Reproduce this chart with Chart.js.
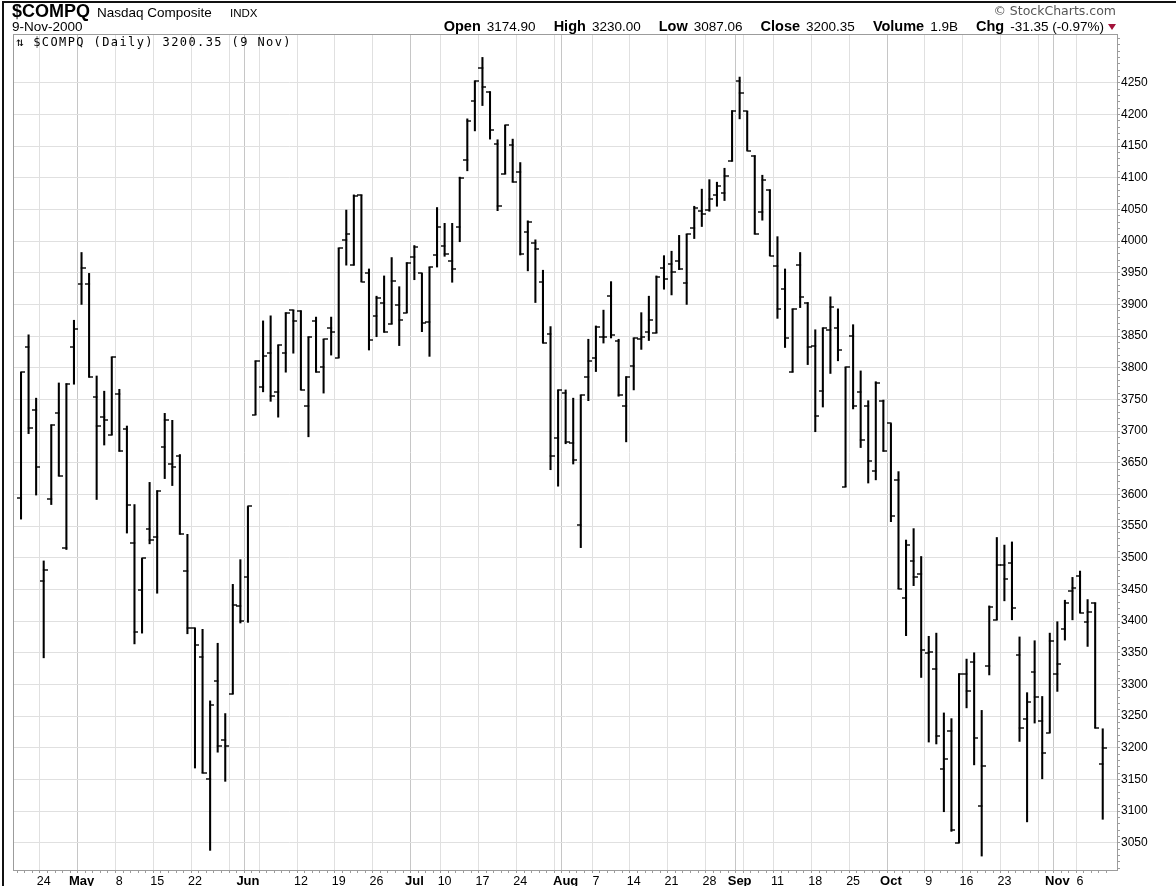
<!DOCTYPE html>
<html>
<head>
<meta charset="utf-8">
<script src="https://cdn.jsdelivr.net/npm/chart.js@4.4.1/dist/chart.umd.min.js"></script>
<style>
html,body{margin:0;padding:0;background:#fff;}
#wrap{position:relative;width:1176px;height:886px;overflow:hidden;font-family:"Liberation Sans",Arial,sans-serif;color:#000;}
#c{position:absolute;left:0;top:0;}
#frame{position:absolute;left:2px;top:1px;width:1200px;height:900px;border-left:2px solid #111;border-top:2px solid #111;box-sizing:border-box;}
.t{position:absolute;white-space:nowrap;line-height:1;}
.hdr b{font-size:14.5px;}
.hdr span{font-size:13.5px;margin-right:18px;padding-left:2px;}
.tri{display:inline-block;width:0;height:0;border-left:4.5px solid transparent;border-right:4.5px solid transparent;border-top:6px solid #a3123a;margin-left:4px;vertical-align:1px;}
</style>
</head>
<body>
<div id="wrap">
<canvas id="c" width="1176" height="886"></canvas>
<div id="frame"></div>
<div class="t" style="left:12px;top:2px;font-size:18px;font-weight:bold;">$COMPQ</div>
<div class="t" style="left:97px;top:6px;font-size:13.5px;">Nasdaq Composite</div>
<div class="t" style="left:230px;top:8px;font-size:11.5px;">INDX</div>
<div class="t" style="left:12px;top:20px;font-size:13.5px;">9-Nov-2000</div>
<div class="t" style="right:60px;top:5px;font-size:12.5px;color:#555;font-family:'DejaVu Sans',sans-serif;">© StockCharts.com</div>
<div class="t hdr" style="right:60px;top:19px;font-size:14.5px;"><b>Open</b> <span>3174.90</span><b>High</b> <span>3230.00</span><b>Low</b> <span>3087.06</span><b>Close</b> <span>3200.35</span><b>Volume</b> <span>1.9B</span><b>Chg</b> <span style="margin-right:0">-31.35 (-0.97%)</span><i class="tri"></i></div>
<div class="t" style="left:16px;top:36px;font-family:'DejaVu Sans Mono',monospace;font-size:12px;letter-spacing:1.4px;">⇅ $COMPQ (Daily) 3200.35 (9 Nov)</div>
</div>
<script>
// ---- Trading days (categories) ----
const dates = [
 '04-18','04-19','04-20','04-24','04-25','04-26','04-27','04-28',
 '05-01','05-02','05-03','05-04','05-05','05-08','05-09','05-10','05-11','05-12','05-15','05-16','05-17','05-18','05-19','05-22','05-23','05-24','05-25','05-26','05-30','05-31',
 '06-01','06-02','06-05','06-06','06-07','06-08','06-09','06-12','06-13','06-14','06-15','06-16','06-19','06-20','06-21','06-22','06-23','06-26','06-27','06-28','06-29','06-30',
 '07-03','07-05','07-06','07-07','07-10','07-11','07-12','07-13','07-14','07-17','07-18','07-19','07-20','07-21','07-24','07-25','07-26','07-27','07-28','07-31',
 '08-01','08-02','08-03','08-04','08-07','08-08','08-09','08-10','08-11','08-14','08-15','08-16','08-17','08-18','08-21','08-22','08-23','08-24','08-25','08-28','08-29','08-30','08-31',
 '09-01','09-05','09-06','09-07','09-08','09-11','09-12','09-13','09-14','09-15','09-18','09-19','09-20','09-21','09-22','09-25','09-26','09-27','09-28','09-29',
 '10-02','10-03','10-04','10-05','10-06','10-09','10-10','10-11','10-12','10-13','10-16','10-17','10-18','10-19','10-20','10-23','10-24','10-25','10-26','10-27','10-30','10-31',
 '11-01','11-02','11-03','11-06','11-07','11-08','11-09'
];
// ---- OHLC series ----
const open = [
 3594,3832,3734,3464,3593,3728,3516,3832,
 3932,3932,3754,3722,3694,3759,3704,3524,3449,3545,3532,3675,3648,3660,3479,3389,3344,3151,3306,3212,3285,3424,
 3470,3726,3770,3824,3762,3823,3891,3890,3740,3874,3801,3863,3816,4002,3962,4073,3949,3882,3903,3869,3899,3887,
 3975,3949,3872,3978,3992,3969,4023,4128,4221,4273,4236,4153,4106,4152,4109,4014,3997,3936,3854,3689,
 3760,3681,3551,3786,3816,3849,3913,3843,3739,3803,3846,3857,3855,3957,3964,3969,3934,4020,4048,4049,4073,4076,4126,
 4252,4205,4135,4046,4081,3960,3924,3793,3962,3903,3835,3763,3860,3863,3612,3850,3761,3740,3637,3748,
 3712,3622,3437,3495,3474,3349,3324,3167,3226,3050,3317,3336,3108,3329,3402,3488,3492,3347,3245,3320,3243,3224,
 3317,3387,3448,3471,3399,3429,3174.90
];
const high = [
 3793,3852,3752,3495,3710,3776,3775,3875,
 3982,3949,3787,3763,3817,3766,3708,3584,3499,3619,3606,3728,3717,3663,3537,3389,3387,3274,3365,3254,3458,3497,
 3581,3811,3874,3882,3836,3887,3891,3890,3849,3880,3845,3880,3989,4049,4073,4073,3956,3913,3945,3974,3928,3966,
 3993,3949,3959,4053,4028,4028,4101,4193,4253,4290,4236,4160,4183,4161,4124,4032,4002,3954,3865,3765,
 3765,3752,3757,3845,3866,3891,3936,3845,3786,3847,3887,3913,3945,3977,3984,4009,4011,4055,4082,4097,4093,4115,4206,
 4259,4205,4135,4104,4081,4007,3956,3893,3982,3903,3860,3863,3912,3893,3801,3868,3795,3748,3778,3749,
 3712,3636,3528,3546,3502,3376,3381,3255,3246,3317,3340,3350,3259,3424,3532,3520,3525,3375,3287,3369,3281,3381,
 3399,3433,3469,3479,3434,3429,3230.00
];
const low = [
 3561,3696,3599,3342,3584,3629,3513,3774,
 3900,3785,3592,3678,3694,3668,3539,3364,3381,3522,3444,3625,3614,3537,3380,3168,3160,3038,3193,3147,3285,3397,
 3398,3726,3762,3747,3722,3793,3823,3765,3691,3793,3760,3820,3816,3962,3962,3936,3828,3849,3856,3869,3835,3887,
 3939,3857,3818,3959,3976,3935,3999,4111,4174,4214,4161,4048,4106,4093,3978,3953,3903,3839,3639,3613,
 3680,3648,3516,3748,3794,3839,3847,3755,3683,3765,3829,3843,3855,3924,3915,3955,3900,4004,4023,4047,4055,4064,4126,
 4193,4143,4011,4033,3977,3878,3832,3793,3895,3805,3699,3738,3791,3811,3612,3735,3674,3618,3623,3668,
 3557,3451,3377,3456,3311,3209,3206,3099,3068,3050,3263,3173,3029,3315,3402,3432,3402,3210,3083,3239,3151,3224,
 3289,3370,3402,3413,3360,3231,3087.06
];
const close = [
 3793,3705,3643,3481,3710,3629,3775,3861,
 3957,3785,3708,3718,3817,3668,3584,3382,3499,3528,3606,3717,3643,3537,3389,3362,3160,3267,3203,3203,3426,3400,
 3581,3811,3818,3755,3836,3886,3874,3765,3849,3793,3845,3857,3989,4011,4071,3936,3844,3910,3856,3937,3876,3966,
 3991,3870,3959,4023,3980,3956,4099,4190,4252,4244,4176,4055,4183,4093,3979,4030,3987,3839,3660,3765,
 3683,3655,3757,3810,3864,3848,3851,3757,3786,3847,3849,3876,3943,3940,3951,3956,4011,4053,4043,4066,4087,4102,4206,
 4234,4143,4011,4097,3977,3893,3847,3893,3911,3833,3724,3862,3896,3828,3801,3739,3686,3653,3776,3669,
 3566,3451,3520,3470,3355,3351,3218,3183,3070,3317,3290,3215,3171,3422,3488,3467,3420,3231,3273,3280,3192,3369,
 3333,3429,3453,3413,3415,3231.70,3200.35
];
// ---- Axis tick labels ----
const xTickIdx    = [3,8,13,18,23,28,30,32,37,42,47,52,56,61,66,71,72,76,81,86,91,95,96,100,105,110,115,120,125,130,135,137,140];
const xTickLabels = ['24','May','8','15','22','','Jun','','12','19','26','Jul','10','17','24','','Aug','7','14','21','28','Sep','','11','18','25','Oct','9','16','23','','Nov','6'];
const monthLabels = ['May','Jun','Jul','Aug','Sep','Oct','Nov'];
const yTickLabels = [3050,3100,3150,3200,3250,3300,3350,3400,3450,3500,3550,3600,3650,3700,3750,3800,3850,3900,3950,4000,4050,4100,4150,4200,4250];

const xLabelMap = new Map(xTickIdx.map((v, i) => [v, xTickLabels[i]]));
const yLabelSet = new Set(yTickLabels);
const isMonth = v => monthLabels.includes(xLabelMap.get(v));

function tickImg(side) {
  const c = document.createElement('canvas');
  c.width = 8; c.height = 2;
  const g = c.getContext('2d');
  g.fillStyle = '#000';
  if (side === 'L') g.fillRect(0, 0.3, 4.6, 1.4); else g.fillRect(3.4, 0.3, 4.6, 1.4);
  return c;
}
const tickL = tickImg('L'), tickR = tickImg('R');

const plotFrame = {
  id: 'plotFrame',
  beforeDatasetsDraw(chart) {
    const { ctx, chartArea: a } = chart;
    ctx.save();
    ctx.strokeStyle = '#9c9c9c';
    ctx.lineWidth = 1;
    ctx.strokeRect(a.left - 0.5, a.top - 0.5, a.right - a.left + 1, a.bottom - a.top + 1);
    ctx.restore();
  }
};

new Chart(document.getElementById('c'), {
  type: 'bar',
  data: {
    datasets: [
      { type: 'bar', data: dates.map((d, i) => ({ x: i, y: [low[i], high[i]] })),
        backgroundColor: '#000', borderWidth: 0, barThickness: 1.4, grouped: false, order: 3 },
      { type: 'scatter', data: dates.map((d, i) => ({ x: i, y: open[i] })),
        pointStyle: tickL, pointRadius: 3, pointHoverRadius: 3, order: 2 },
      { type: 'scatter', data: dates.map((d, i) => ({ x: i, y: close[i] })),
        pointStyle: tickR, pointRadius: 3, pointHoverRadius: 3, order: 1 }
    ]
  },
  options: {
    responsive: false,
    animation: false,
    events: [],
    layout: { padding: { left: 14, top: 35, right: 0, bottom: 0 } },
    plugins: { legend: { display: false }, tooltip: { enabled: false } },
    scales: {
      x: {
        type: 'linear', position: 'bottom', min: -0.42, max: 144.38,
        afterBuildTicks: a => { a.ticks = dates.map((d, i) => ({ value: i })); },
        afterFit: s => { s.height = 16; },
        border: { display: false },
        grid: {
          color: c => !xLabelMap.has(c.tick && c.tick.value) ? 'rgba(0,0,0,0)' : (isMonth(c.tick.value) ? '#c6c6c6' : '#e0e0e0'),
          tickColor: '#9c9c9c', tickLength: 3, lineWidth: 1
        },
        ticks: {
          autoSkip: false, maxRotation: 0, minRotation: 0, padding: 1, color: '#000',
          font: c => (c.tick && isMonth(c.tick.value))
            ? { family: 'Liberation Sans', size: 13, weight: 'bold' }
            : { family: 'Liberation Sans', size: 12.5 },
          callback: v => xLabelMap.get(v) ?? ''
        }
      },
      y: {
        type: 'linear', position: 'right', min: 3007, max: 4325.4,
        afterBuildTicks: a => { const t = []; for (let v = 3010; v <= 4320; v += 10) t.push({ value: v }); a.ticks = t; },
        afterFit: s => { s.width = 59; },
        border: { display: false },
        grid: {
          color: c => yLabelSet.has(c.tick && c.tick.value) ? '#e0e0e0' : 'rgba(0,0,0,0)',
          tickColor: '#9c9c9c', tickLength: 3, lineWidth: 1
        },
        ticks: {
          autoSkip: false, padding: 1, color: '#000',
          font: { family: 'Liberation Sans', size: 12 },
          callback: v => yLabelSet.has(v) ? String(v) : ''
        }
      }
    }
  },
  plugins: [plotFrame]
});
</script>
</body>
</html>
